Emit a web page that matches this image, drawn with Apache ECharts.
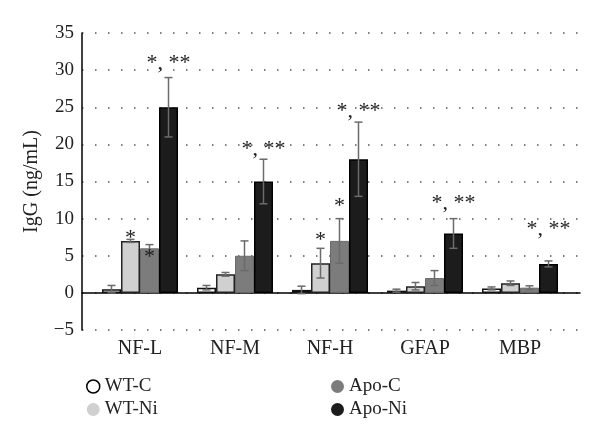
<!DOCTYPE html>
<html><head><meta charset="utf-8">
<script src="https://cdn.jsdelivr.net/npm/echarts@6/dist/echarts.min.js"></script>
<style>html,body{margin:0;padding:0;background:#fff}#c{width:600px;height:440px}</style>
</head><body><div id="c"></div>
<script>
var categories = ['NF-L', 'NF-M', 'NF-H', 'GFAP', 'MBP'];
var seriesNames = ['WT-C', 'WT-Ni', 'Apo-C', 'Apo-Ni'];
var wtC   = [0.5, 0.7, 0.4, 0.3, 0.6];
var wtNi  = [7.0, 2.5, 4.0, 0.9, 1.3];
var apoC  = [6.0, 5.0, 7.0, 2.0, 0.7];
var apoNi = [25.0, 15.0, 18.0, 8.0, 3.9];
var wtCErr   = [0.5, 0.3, 0.5, 0.2, 0.2];
var wtNiErr  = [0.2, 0.25, 2.0, 0.5, 0.3];
var apoCErr  = [0.5, 2.0, 3.0, 1.0, 0.25];
var apoNiErr = [4.0, 3.0, 5.0, 2.0, 0.4];
// annotations: [categoryIndex, seriesIndex, value position, text]
var annotations = [
  [0, 1, 7.6, '*'], [0, 2, 5.1, '*'], [0, 3, 31.2, '*, **'],
  [1, 3, 19.6, '*, **'],
  [2, 1, 7.4, '*'], [2, 2, 12.0, '*'], [2, 3, 24.8, '*, **'],
  [3, 3, 12.3, '*, **'],
  [4, 3, 8.9, '*, **']
];
var yTicks = [-5, 0, 5, 10, 15, 20, 25, 30, 35];

var values = [wtC, wtNi, apoC, apoNi];
var errs = [wtCErr, wtNiErr, apoCErr, apoNiErr];
var fills = ['#ffffff', '#d0d0d0', '#7c7c7c', '#1c1c1c'];
var borders = ['#111111', '#222222', '#6a6a6a', '#000000'];
var FONT = '"Liberation Serif", "DejaVu Serif", serif';

var chart = echarts.init(document.getElementById('c'), null, {renderer: 'canvas'});
var series = [];
seriesNames.forEach(function (name, i) {
  series.push({
    name: name, type: 'bar', xAxisIndex: 1, yAxisIndex: 1,
    barWidth: 19, barGap: '0%',
    data: values[i],
    itemStyle: {color: fills[i], borderColor: borders[i], borderWidth: i === 2 ? 1 : 1.5},
    z: 2
  });
});
seriesNames.forEach(function (name, i) {
  series.push({
    type: 'custom', xAxisIndex: 1, yAxisIndex: 1, z: 5, silent: true,
    data: values[i].map(function (v, k) { return [k, v - errs[i][k], v + errs[i][k]]; }),
    renderItem: function (params, api) {
      var band = api.size([1, 0])[0];
      var bw = band * 0.8 / 4;
      var lo = api.coord([api.value(0), api.value(1)]);
      var hi = api.coord([api.value(0), api.value(2)]);
      var x = lo[0] + (i - 1.5) * bw;
      var cap = 4;
      var st = {stroke: '#6b6b6b', lineWidth: 1.5};
      return {type: 'group', children: [
        {type: 'line', shape: {x1: x, y1: lo[1], x2: x, y2: hi[1]}, style: st},
        {type: 'line', shape: {x1: x - cap, y1: lo[1], x2: x + cap, y2: lo[1]}, style: st},
        {type: 'line', shape: {x1: x - cap, y1: hi[1], x2: x + cap, y2: hi[1]}, style: st}
      ]};
    }
  });
});
series.push({
  type: 'custom', xAxisIndex: 1, yAxisIndex: 1, z: 6, silent: true,
  data: annotations.map(function (a) { return [a[0], a[2], a[1]]; }),
  renderItem: function (params, api) {
    var band = api.size([1, 0])[0];
    var bw = band * 0.8 / 4;
    var p = api.coord([api.value(0), api.value(1)]);
    var si = api.value(2);
    var txt = annotations[params.dataIndex][3];
    return {type: 'text', x: p[0] + (si - 1.5) * bw, y: p[1] + 2,
      style: {text: txt, fill: '#222', font: '22px ' + FONT, align: 'center', verticalAlign: 'middle'}};
  }
});

var legendText = {fontFamily: FONT, fontSize: 19, color: '#222'};
chart.setOption({
  animation: false,
  backgroundColor: '#fff',
  grid: [
    {left: 82, right: 20, top: 33, bottom: 110},
    {left: 92.5, right: 32.5, top: 33, bottom: 110}
  ],
  legend: [
    {left: 81, top: 372, orient: 'vertical', itemWidth: 13, itemHeight: 13, itemGap: 4, itemTextGap: 17,
     icon: 'circle', textStyle: legendText,
     data: [
       {name: 'WT-C', itemStyle: {color: '#ffffff', borderColor: '#000', borderWidth: 1.5}},
       {name: 'WT-Ni', itemStyle: {color: '#d0d0d0', borderWidth: 0}}
     ]},
    {left: 326, top: 372, orient: 'vertical', itemWidth: 13, itemHeight: 13, itemGap: 4, itemTextGap: 17,
     icon: 'circle', textStyle: legendText,
     data: [
       {name: 'Apo-C', itemStyle: {color: '#7c7c7c', borderWidth: 0}},
       {name: 'Apo-Ni', itemStyle: {color: '#1c1c1c', borderWidth: 0}}
     ]}
  ],
  xAxis: [
    {type: 'category', gridIndex: 0, data: categories,
     axisLine: {show: true, onZero: true, lineStyle: {color: '#000', width: 1.5}},
     axisTick: {show: false}, axisLabel: {show: false}, splitLine: {show: false}},
    {type: 'category', gridIndex: 1, data: categories,
     axisLine: {show: false, onZero: true}, axisTick: {show: false},
     axisLabel: {fontFamily: FONT, fontSize: 20, color: '#222', margin: 9}}
  ],
  yAxis: [
    {type: 'value', gridIndex: 0, min: yTicks[0], max: yTicks[yTicks.length - 1], interval: 5,
     name: 'IgG (ng/mL)', nameLocation: 'middle', nameGap: 40,
     nameTextStyle: {fontFamily: FONT, fontSize: 20, color: '#222'},
     axisLine: {show: true, lineStyle: {color: '#000', width: 1.5}},
     axisTick: {show: false},
     axisLabel: {fontFamily: FONT, fontSize: 19, color: '#222', margin: 8,
       formatter: function (v) { return v < 0 ? '\u2212' + Math.abs(v) : String(v); }},
     splitLine: {show: true, lineStyle: {color: '#555', width: 1.5, type: [1.5, 11.5]}}},
    {type: 'value', gridIndex: 1, min: yTicks[0], max: yTicks[yTicks.length - 1], interval: 5,
     show: false, splitLine: {show: false}}
  ],
  series: series
});
</script></body></html>
